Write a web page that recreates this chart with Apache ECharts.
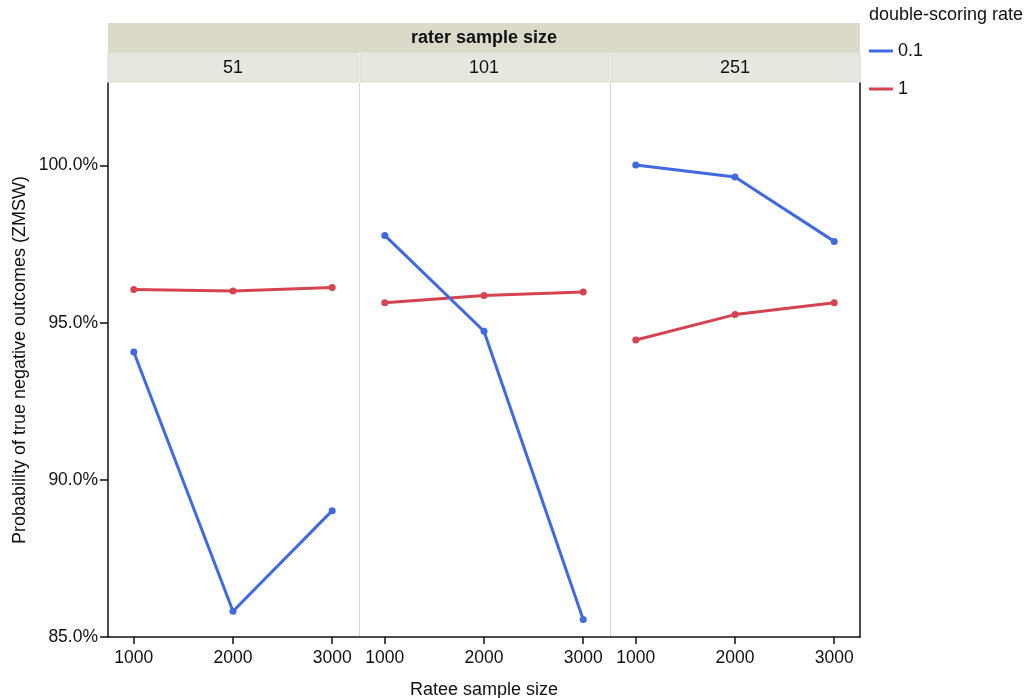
<!DOCTYPE html>
<html>
<head>
<meta charset="utf-8">
<script src="https://cdn.jsdelivr.net/npm/echarts@6/dist/echarts.min.js"></script>
<style>
  html, body { margin: 0; padding: 0; background: #fff; }
  #chart { width: 1027px; height: 698px; }
</style>
</head>
<body>
<div id="chart"></div>
<script>
// Facets: rater sample size; x: ratee sample size; y: probability (%)
const raterSizes = ['51', '101', '251'];
const rateeSizes = [1000, 2000, 3000];
const rateLabels = ['0.1', '1'];

// Probability of true negative outcomes (%), one array per facet and rate
const rate01_51  = [94.07, 85.82, 89.02];
const rate1_51   = [96.06, 96.01, 96.12];
const rate01_101 = [97.78, 94.73, 85.56];
const rate1_101  = [95.64, 95.87, 95.98];
const rate01_251 = [100.02, 99.64, 97.59];
const rate1_251  = [94.45, 95.26, 95.64];

const yTicks = [85, 90, 95, 100];

const FONT = '"Liberation Sans", Arial, sans-serif';
const TXT = '#111';
const BLUE = '#4169e1';
const RED = '#d64350';

const facetData = [
  [rate01_51, rate1_51],
  [rate01_101, rate1_101],
  [rate01_251, rate1_251]
];

const gridLefts = [108, 359, 610];
const gridW = 250, gridTop = 83, gridH = 554;

const grids = gridLefts.map(l => ({
  left: l, top: gridTop, width: gridW, height: gridH,
  containLabel: false, outerBoundsMode: 'none'
}));

const xAxes = gridLefts.map((l, i) => ({
  type: 'value', gridIndex: i, min: 740, max: 3260,
  axisLine: { show: true, lineStyle: { color: '#111', width: 1.5 } },
  axisTick: { show: true, length: 7, customValues: rateeSizes, lineStyle: { color: '#111', width: 1.5 } },
  axisLabel: { customValues: rateeSizes, color: TXT, fontSize: 17.5, fontFamily: FONT, margin: 12,
               formatter: v => String(v) },
  splitLine: { show: false },
  name: i === 1 ? 'Ratee sample size' : '',
  nameLocation: 'middle', nameGap: 44,
  nameTextStyle: { color: TXT, fontSize: 18, fontFamily: FONT }
}));

const yAxes = gridLefts.map((l, i) => ({
  type: 'value', gridIndex: i, min: 85, max: 102.63,
  axisLine: { show: true, lineStyle: { color: i === 0 ? '#111' : '#d6d6d6', width: i === 0 ? 1.5 : 1 } },
  axisTick: { show: i === 0, length: 8, customValues: yTicks, lineStyle: { color: '#111', width: 1.5 } },
  axisLabel: { show: i === 0, customValues: yTicks, color: TXT, fontSize: 17.5, fontFamily: FONT, margin: 10,
               formatter: v => v.toFixed(1) + '%' },
  splitLine: { show: false },
  name: i === 0 ? 'Probability of true negative outcomes (ZMSW)' : '',
  nameLocation: 'middle', nameGap: 79,
  nameTextStyle: { color: TXT, fontSize: 18, fontFamily: FONT }
}));
// right border of the last panel
yAxes.push({
  type: 'value', gridIndex: 2, position: 'right', min: 85, max: 102.63,
  axisLine: { show: true, lineStyle: { color: '#111', width: 1.5 } },
  axisTick: { show: false }, axisLabel: { show: false }, splitLine: { show: false }
});

const series = [];
facetData.forEach((pair, i) => {
  pair.forEach((vals, k) => {
    const color = k === 0 ? BLUE : RED;
    series.push({
      type: 'line', name: rateLabels[k], xAxisIndex: i, yAxisIndex: i,
      data: rateeSizes.map((x, j) => [x, vals[j]]),
      symbol: 'circle', symbolSize: 7,
      lineStyle: { color, width: 3 },
      itemStyle: { color },
      z: k === 0 ? 3 : 2
    });
  });
});

// Facet header strips
const graphics = [
  { type: 'rect', shape: { x: 108, y: 23, width: 752, height: 30 }, style: { fill: '#dbd9ca' }, silent: true },
  { type: 'text', x: 484, y: 38, style: { text: 'rater sample size', fill: TXT, font: 'bold 18px ' + FONT, align: 'center', verticalAlign: 'middle' } },
  { type: 'text', x: 869, y: 15, style: { text: 'double-scoring rate', fill: TXT, font: '18px ' + FONT, align: 'left', verticalAlign: 'middle' } }
];
gridLefts.forEach((l, i) => {
  graphics.push({ type: 'rect', shape: { x: l + (i === 0 ? 0 : 1), y: 54, width: gridW - (i === 0 ? 0 : 1), height: 28 }, style: { fill: '#e7e7df', stroke: '#d9d8cc', lineWidth: 1 }, silent: true });
  graphics.push({ type: 'text', x: l + gridW / 2, y: 68, style: { text: raterSizes[i], fill: TXT, font: '18px ' + FONT, align: 'center', verticalAlign: 'middle' } });
});

const option = {
  animation: false,
  backgroundColor: '#fff',
  grid: grids,
  xAxis: xAxes,
  yAxis: yAxes,
  series,
  legend: {
    data: rateLabels, orient: 'vertical', left: 869, top: 42, padding: 0,
    icon: 'rect', itemWidth: 24, itemHeight: 3, itemGap: 20,
    textStyle: { color: TXT, fontSize: 18, fontFamily: FONT },
    selectedMode: false
  },
  graphic: graphics
};

const chart = echarts.init(document.getElementById('chart'), null, { renderer: 'canvas' });
chart.setOption(option);
</script>
</body>
</html>
